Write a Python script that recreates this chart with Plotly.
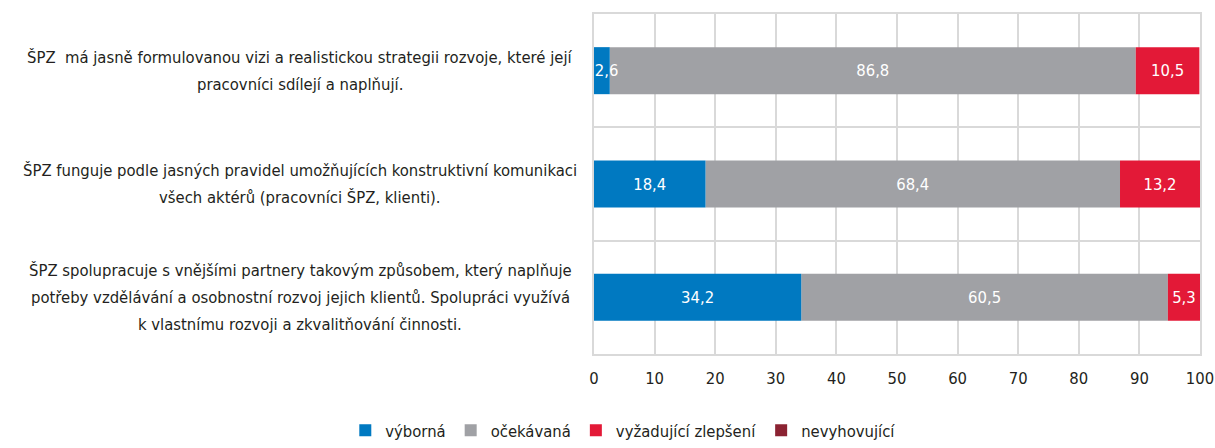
import numpy as np
import plotly.graph_objects as go

categories = [
    "ŠPZ  má jasně formulovanou vizi a realistickou strategii rozvoje, které její<br>pracovníci sdílejí a naplňují.",
    "ŠPZ funguje podle jasných pravidel umožňujících konstruktivní komunikaci<br>všech aktérů (pracovníci ŠPZ, klienti).",
    "ŠPZ spolupracuje s vnějšími partnery takovým způsobem, který naplňuje<br>potřeby vzdělávání a osobnostní rozvoj jejich klientů. Spolupráci využívá<br>k vlastnímu rozvoji a zkvalitňování činnosti.",
]
cat_ids = ["c1", "c2", "c3"]

vyborna = [2.6, 18.4, 34.2]
ocekavana = [86.8, 68.4, 60.5]
vyzadujici = [10.5, 13.2, 5.3]
nevyhovujici = [0, 0, 0]

series_names = ["výborná", "očekávaná", "vyžadující zlepšení", "nevyhovující"]
series_values = [vyborna, ocekavana, vyzadujici, nevyhovujici]
colors = ["#0079C1", "#A0A1A5", "#E31937", "#8B2332"]

x_ticks = [0, 10, 20, 30, 40, 50, 60, 70, 80, 90, 100]

FONT = "Liberation Sans Narrow, DejaVu Sans Condensed, Arial Narrow, sans-serif"
TXT = "#231F20"
GRID = "#D9D9D9"
LINE_GAP = 27


def fmt(v, first):
    s = f"{v:.1f}".replace(".", ",")
    # tiny first segment: nudge label right so it starts at the bar's left edge
    if first and v < 4:
        s = "\u00a0\u00a0" + s
    return s


# stacked bases computed from the series values
bases = []
acc = np.zeros(len(cat_ids))
for vals in series_values:
    bases.append(acc.copy())
    acc = acc + np.array(vals)

traces = []
for k, (name, vals, col, base) in enumerate(zip(series_names, series_values, colors, bases)):
    show_text = name != "nevyhovující"
    traces.append(go.Bar(
        y=cat_ids, x=vals, base=base, name=name, orientation="h",
        legendrank=k + 1,
        marker=dict(color=col, line=dict(width=0)),
        width=0.415,
        text=[fmt(v, k == 0) for v in vals] if show_text else None,
        textposition="inside" if show_text else "none",
        insidetextanchor="middle",
        textangle=0,
        constraintext="none",
        textfont=dict(family=FONT, size=16.5, color="white"),
        hoverinfo="x+name",
    ))

fig = go.Figure()
# draw the first series last so its labels sit on top of neighbouring bars
for t in traces[1:] + traces[:1]:
    fig.add_trace(t)

for cid, label in zip(cat_ids, categories):
    lines = label.split("<br>")
    n = len(lines)
    for i, line in enumerate(lines):
        fig.add_annotation(
            x=-0.485, xref="paper", xanchor="center",
            y=cid, yref="y", yanchor="middle",
            yshift=((n - 1) / 2 - i) * LINE_GAP,
            text=line, showarrow=False, align="center",
            font=dict(family=FONT, size=16.5, color=TXT),
        )

fig.update_layout(
    barmode="overlay",
    separators=", ",
    width=1215, height=448,
    margin=dict(l=594, r=15, t=14, b=94, autoexpand=False),
    paper_bgcolor="white", plot_bgcolor="white",
    font=dict(family=FONT, size=16.5, color=TXT),
    showlegend=True,
    legend=dict(
        orientation="h", xref="container", yref="container",
        x=0.513, xanchor="center", y=-0.012, yanchor="bottom",
        font=dict(family=FONT, size=16.5, color=TXT),
        traceorder="normal", itemwidth=30,
    ),
    xaxis=dict(
        range=[0, 100], tickvals=x_ticks, showgrid=True, gridcolor=GRID, gridwidth=1.5,
        showline=True, linecolor=GRID, linewidth=1.5, mirror=True, zeroline=False,
        ticks="", ticklabelstandoff=8, automargin=False,
        tickfont=dict(family=FONT, size=16.5, color=TXT),
    ),
    yaxis=dict(
        categoryorder="array", categoryarray=cat_ids, autorange="reversed",
        tickson="boundaries", showgrid=True, gridcolor=GRID, gridwidth=1.5,
        showline=True, linecolor=GRID, linewidth=1.5, mirror=True,
        showticklabels=False, ticks="", automargin=False,
    ),
)

fig.write_html(
    "out.html",
    config={"displayModeBar": False},
    post_script="document.body.style.margin='0';document.body.style.overflow='hidden';",
)
